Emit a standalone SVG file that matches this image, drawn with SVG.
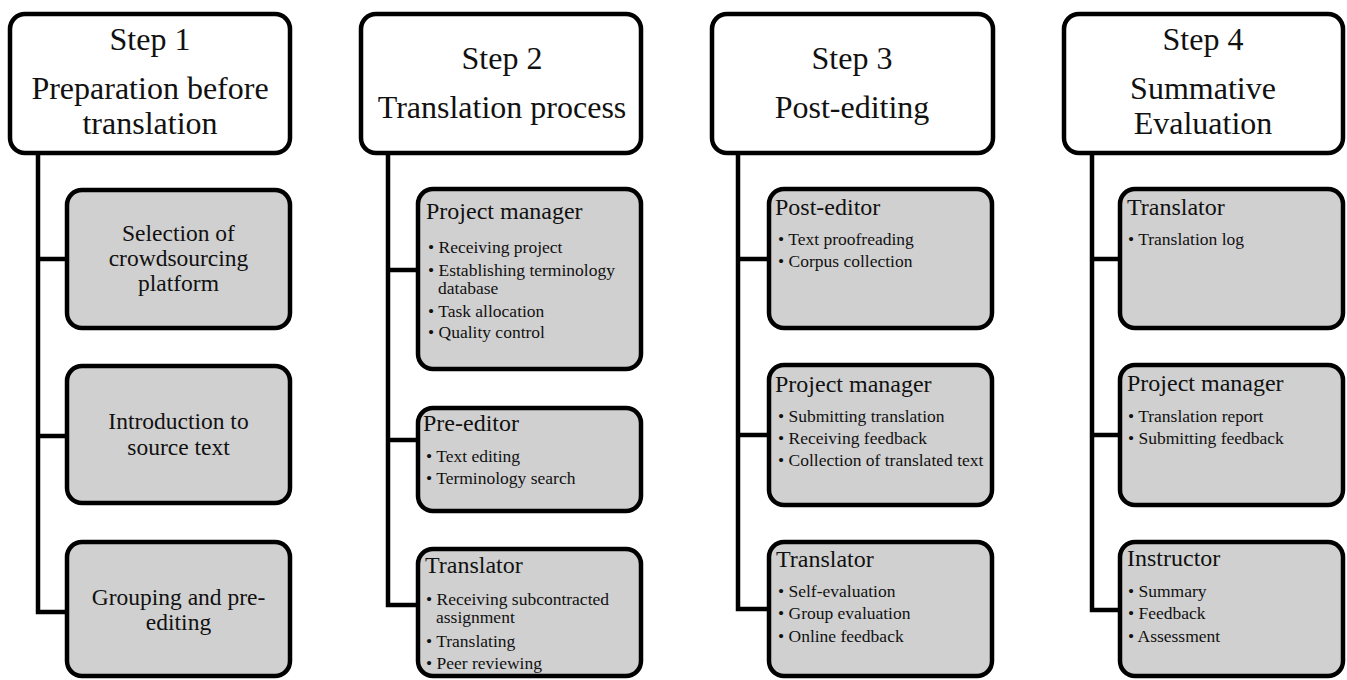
<svg xmlns="http://www.w3.org/2000/svg" width="1347" height="680" viewBox="0 0 1347 680" font-family="'Liberation Serif', 'DejaVu Serif', 'Times New Roman', serif">
<style>
.hdr{fill:#fff;stroke:#000;stroke-width:4.5}
.box{fill:#d0d0d0;stroke:#000;stroke-width:4.5}
.con{fill:none;stroke:#000;stroke-width:4.5;stroke-linejoin:miter}
text{fill:#111}
.h{font-size:32px;text-anchor:middle}
.c{font-size:23.5px;text-anchor:middle}
.t{font-size:24px}
.b{font-size:17.5px}
</style>
<rect width="1347" height="680" fill="#fff"/>
<g id="connectors">
<path class="con" d="M38 153V612H67M38 259H67M38 436H67"/>
<path class="con" d="M388 153V605H418M388 270H418M388 440H418"/>
<path class="con" d="M738 153V609H769M738 259H769M738 435H769"/>
<path class="con" d="M1092 153V610H1120M1092 259H1120M1092 435H1120"/>
</g>
<g id="step1">
<rect class="hdr" x="10" y="14" width="280" height="139" rx="15"/>
<text class="h" x="150" y="50">Step 1</text>
<text class="h" x="150" y="99">Preparation before</text>
<text class="h" x="150" y="134">translation</text>
</g>
<g id="s1a">
<rect class="box" x="67" y="190" width="223" height="138" rx="15"/>
<text class="c" x="178.5" y="241">Selection of</text>
<text class="c" x="178.5" y="266">crowdsourcing</text>
<text class="c" x="178.5" y="291">platform</text>
</g>
<g id="s1b">
<rect class="box" x="67" y="366" width="223" height="137" rx="15"/>
<text class="c" x="178.5" y="429">Introduction to</text>
<text class="c" x="178.5" y="455">source text</text>
</g>
<g id="s1c">
<rect class="box" x="67" y="542" width="223" height="134" rx="15"/>
<text class="c" x="178.5" y="605">Grouping and pre-</text>
<text class="c" x="178.5" y="630">editing</text>
</g>
<g id="step2">
<rect class="hdr" x="361" y="14" width="280" height="139" rx="15"/>
<text class="h" x="502" y="69">Step 2</text>
<text class="h" x="502" y="118">Translation process</text>
</g>
<g id="s2a">
<rect class="box" x="418" y="189" width="223" height="180" rx="15"/>
<text class="t" x="426" y="219">Project manager</text>
<text class="b" x="428" y="253">• Receiving project</text>
<text class="b" x="428" y="276">• Establishing terminology</text>
<text class="b" x="438" y="294">database</text>
<text class="b" x="428" y="317">• Task allocation</text>
<text class="b" x="428" y="338">• Quality control</text>
</g>
<g id="s2b">
<rect class="box" x="418" y="408" width="223" height="103" rx="15"/>
<text class="t" x="423" y="431">Pre-editor</text>
<text class="b" x="426" y="462">• Text editing</text>
<text class="b" x="426" y="484">• Terminology search</text>
</g>
<g id="s2c">
<rect class="box" x="418" y="549" width="223" height="127" rx="15"/>
<text class="t" x="425" y="573">Translator</text>
<text class="b" x="426" y="605">• Receiving subcontracted</text>
<text class="b" x="436" y="623">assignment</text>
<text class="b" x="426" y="647">• Translating</text>
<text class="b" x="426" y="669">• Peer reviewing</text>
</g>
<g id="step3">
<rect class="hdr" x="712" y="14" width="281" height="139" rx="15"/>
<text class="h" x="852" y="69">Step 3</text>
<text class="h" x="852" y="118">Post-editing</text>
</g>
<g id="s3a">
<rect class="box" x="769" y="189" width="223" height="139" rx="15"/>
<text class="t" x="775" y="215">Post-editor</text>
<text class="b" x="778" y="245">• Text proofreading</text>
<text class="b" x="778" y="267">• Corpus collection</text>
</g>
<g id="s3b">
<rect class="box" x="769" y="365" width="223" height="140" rx="15"/>
<text class="t" x="775" y="392">Project manager</text>
<text class="b" x="778" y="422">• Submitting translation</text>
<text class="b" x="778" y="444">• Receiving feedback</text>
<text class="b" x="778" y="466">• Collection of translated text</text>
</g>
<g id="s3c">
<rect class="box" x="769" y="542" width="223" height="134" rx="15"/>
<text class="t" x="776" y="567">Translator</text>
<text class="b" x="778" y="597">• Self-evaluation</text>
<text class="b" x="778" y="619">• Group evaluation</text>
<text class="b" x="778" y="642">• Online feedback</text>
</g>
<g id="step4">
<rect class="hdr" x="1064" y="14" width="279" height="139" rx="15"/>
<text class="h" x="1203" y="50">Step 4</text>
<text class="h" x="1203" y="99">Summative</text>
<text class="h" x="1203" y="134">Evaluation</text>
</g>
<g id="s4a">
<rect class="box" x="1120" y="189" width="223" height="139" rx="15"/>
<text class="t" x="1127" y="215">Translator</text>
<text class="b" x="1128" y="245">• Translation log</text>
</g>
<g id="s4b">
<rect class="box" x="1120" y="365" width="223" height="140" rx="15"/>
<text class="t" x="1127" y="391">Project manager</text>
<text class="b" x="1128" y="422">• Translation report</text>
<text class="b" x="1128" y="444">• Submitting feedback</text>
</g>
<g id="s4c">
<rect class="box" x="1120" y="542" width="223" height="134" rx="15"/>
<text class="t" x="1127" y="566">Instructor</text>
<text class="b" x="1128" y="597">• Summary</text>
<text class="b" x="1128" y="619">• Feedback</text>
<text class="b" x="1128" y="642">• Assessment</text>
</g>
</svg>
